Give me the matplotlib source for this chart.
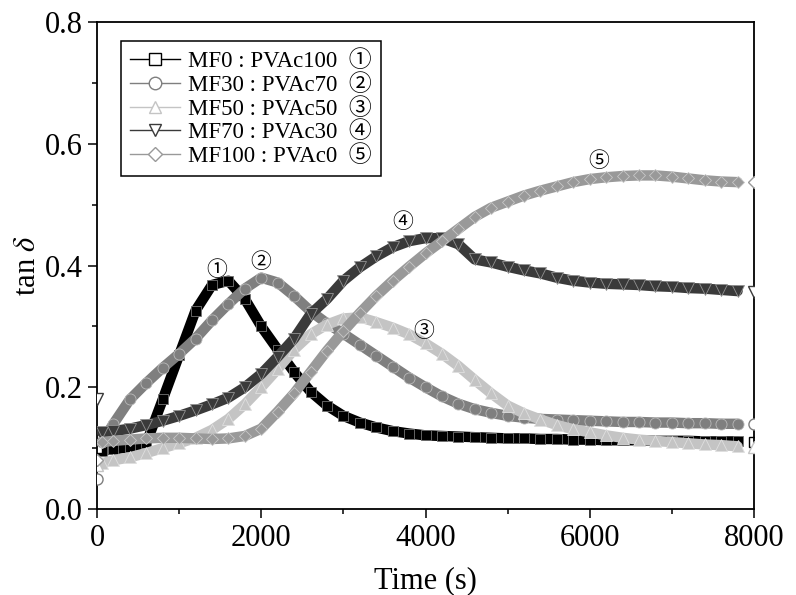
import matplotlib
matplotlib.use('Agg')
import matplotlib.pyplot as plt
from matplotlib.lines import Line2D
from matplotlib.ticker import MultipleLocator, FormatStrFormatter
from matplotlib.colors import to_rgb
import numpy as np

plt.rcParams['font.family'] = ['Liberation Serif', 'Noto Sans CJK JP', 'DejaVu Sans']
plt.rcParams['mathtext.fontset'] = 'stix'

# time axis (s)
time = [0, 60] + list(range(200, 8001, 200))

# tan delta for each MF : PVAc ratio
mf0 = [0.100, 0.096, 0.098, 0.102, 0.108, 0.180, 0.253, 0.326, 0.368, 0.375,
       0.345, 0.300, 0.262, 0.225, 0.193, 0.170, 0.153, 0.142, 0.134, 0.128,
       0.124, 0.121, 0.120, 0.119, 0.118, 0.117, 0.116, 0.116, 0.115, 0.115,
       0.114, 0.114, 0.113, 0.113, 0.113, 0.112, 0.112, 0.112, 0.111, 0.111,
       0.111, 0.110]
mf30 = [0.050, 0.110, 0.140, 0.180, 0.207, 0.232, 0.255, 0.280, 0.310, 0.337,
        0.362, 0.380, 0.372, 0.350, 0.325, 0.305, 0.288, 0.270, 0.252, 0.234,
        0.216, 0.200, 0.185, 0.173, 0.164, 0.158, 0.153, 0.150, 0.148, 0.147,
        0.146, 0.145, 0.144, 0.143, 0.143, 0.142, 0.142, 0.141, 0.141, 0.140,
        0.140, 0.140]
mf50 = [0.072, 0.075, 0.080, 0.085, 0.092, 0.100, 0.108, 0.117, 0.130, 0.148,
        0.172, 0.200, 0.230, 0.262, 0.287, 0.303, 0.313, 0.315, 0.307, 0.298,
        0.287, 0.272, 0.255, 0.235, 0.212, 0.190, 0.170, 0.157, 0.147, 0.138,
        0.131, 0.126, 0.121, 0.117, 0.114, 0.112, 0.110, 0.108, 0.106, 0.105,
        0.103, 0.102]
mf70 = [0.180, 0.126, 0.128, 0.132, 0.138, 0.145, 0.153, 0.162, 0.172, 0.183,
        0.200, 0.222, 0.250, 0.280, 0.320, 0.345, 0.375, 0.397, 0.415, 0.430,
        0.440, 0.445, 0.445, 0.435, 0.410, 0.405, 0.398, 0.392, 0.387, 0.380,
        0.375, 0.372, 0.370, 0.369, 0.368, 0.366, 0.365, 0.363, 0.362, 0.360,
        0.358, 0.357]
mf100 = [0.080, 0.110, 0.112, 0.114, 0.116, 0.117, 0.117, 0.116, 0.115, 0.116,
         0.120, 0.132, 0.160, 0.190, 0.225, 0.260, 0.292, 0.322, 0.350, 0.375,
         0.398, 0.420, 0.440, 0.460, 0.480, 0.495, 0.505, 0.515, 0.523, 0.530,
         0.537, 0.542, 0.545, 0.547, 0.548, 0.548, 0.546, 0.543, 0.540, 0.538,
         0.537, 0.537]

labels = ['MF0 : PVAc100', 'MF30 : PVAc70', 'MF50 : PVAc50',
          'MF70 : PVAc30', 'MF100 : PVAc0']
numbers = ['\u2460', '\u2461', '\u2462', '\u2463', '\u2464']
series = [mf0, mf30, mf50, mf70, mf100]
markers = ['s', 'o', '^', 'v', 'D']
colors = ['#000000', '#7f7f7f', '#c4c4c4', '#3a3a3a', '#999999']
msizes = [8, 9, 9, 9, 7]

# circled-number tags next to each curve (time, tan delta)
tag_t = [1458, 1994, 3975, 3724, 6106]
tag_v = [0.391, 0.404, 0.291, 0.469, 0.570]

fig = plt.figure(figsize=(7.96, 5.95), dpi=100)
ax = fig.add_axes([0.1219, 0.1445, 0.8253, 0.8185])

t = np.array(time)
handles = []
for i, vals in enumerate(series):
    v = np.array(vals)
    c = colors[i]
    edge = tuple(0.55 * np.array(to_rgb(c)) + 0.45)
    z = 2 + i
    # thick band of overlapping symbols
    ax.plot(t[1:-1], v[1:-1], color=c, lw=7.5, solid_joinstyle='round',
            solid_capstyle='round', zorder=z)
    ax.plot(t[1:-1], v[1:-1], ls='none', marker=markers[i], ms=msizes[i] - 1,
            mfc=c, mec=edge, mew=0.6, zorder=z)
    # open symbols at the first and last readings
    ax.plot(t[[0, -1]], v[[0, -1]], ls='none', marker=markers[i], ms=msizes[i] - 1,
            mfc='white', mec=c, mew=1, zorder=z)
    handles.append(Line2D([], [], color=c, lw=1, marker=markers[i],
                          ms=msizes[i], mfc='white', mec=c, mew=1,
                          label=labels[i] + '  ' + numbers[i]))
    ax.text(tag_t[i], tag_v[i], numbers[i], fontsize=15, ha='center',
            va='center', zorder=10)

ax.set_xlim(0, 8000)
ax.set_ylim(0, 0.8)
ax.xaxis.set_major_locator(MultipleLocator(2000))
ax.xaxis.set_minor_locator(MultipleLocator(1000))
ax.yaxis.set_major_locator(MultipleLocator(0.2))
ax.yaxis.set_minor_locator(MultipleLocator(0.1))
ax.yaxis.set_major_formatter(FormatStrFormatter('%.1f'))
ax.tick_params(which='major', direction='out', length=6.5, width=1.1,
               labelsize=22, pad=4)
ax.tick_params(which='minor', direction='out', length=3.5, width=1.1)
for s in ax.spines.values():
    s.set_linewidth(1.3)

ax.set_xlabel('Time (s)', fontsize=22, labelpad=10)
ax.set_ylabel(r'tan $\delta$', fontsize=22, labelpad=2)

leg = ax.legend(handles=handles, loc='upper left', bbox_to_anchor=(0.036, 0.96),
                borderaxespad=0, fontsize=16.5, handlelength=2.2,
                handletextpad=0.35, labelspacing=0.08, borderpad=0.4,
                fancybox=False, framealpha=1, edgecolor='black')
leg.get_frame().set_linewidth(1.1)

fig.savefig('out.png', dpi=100)
